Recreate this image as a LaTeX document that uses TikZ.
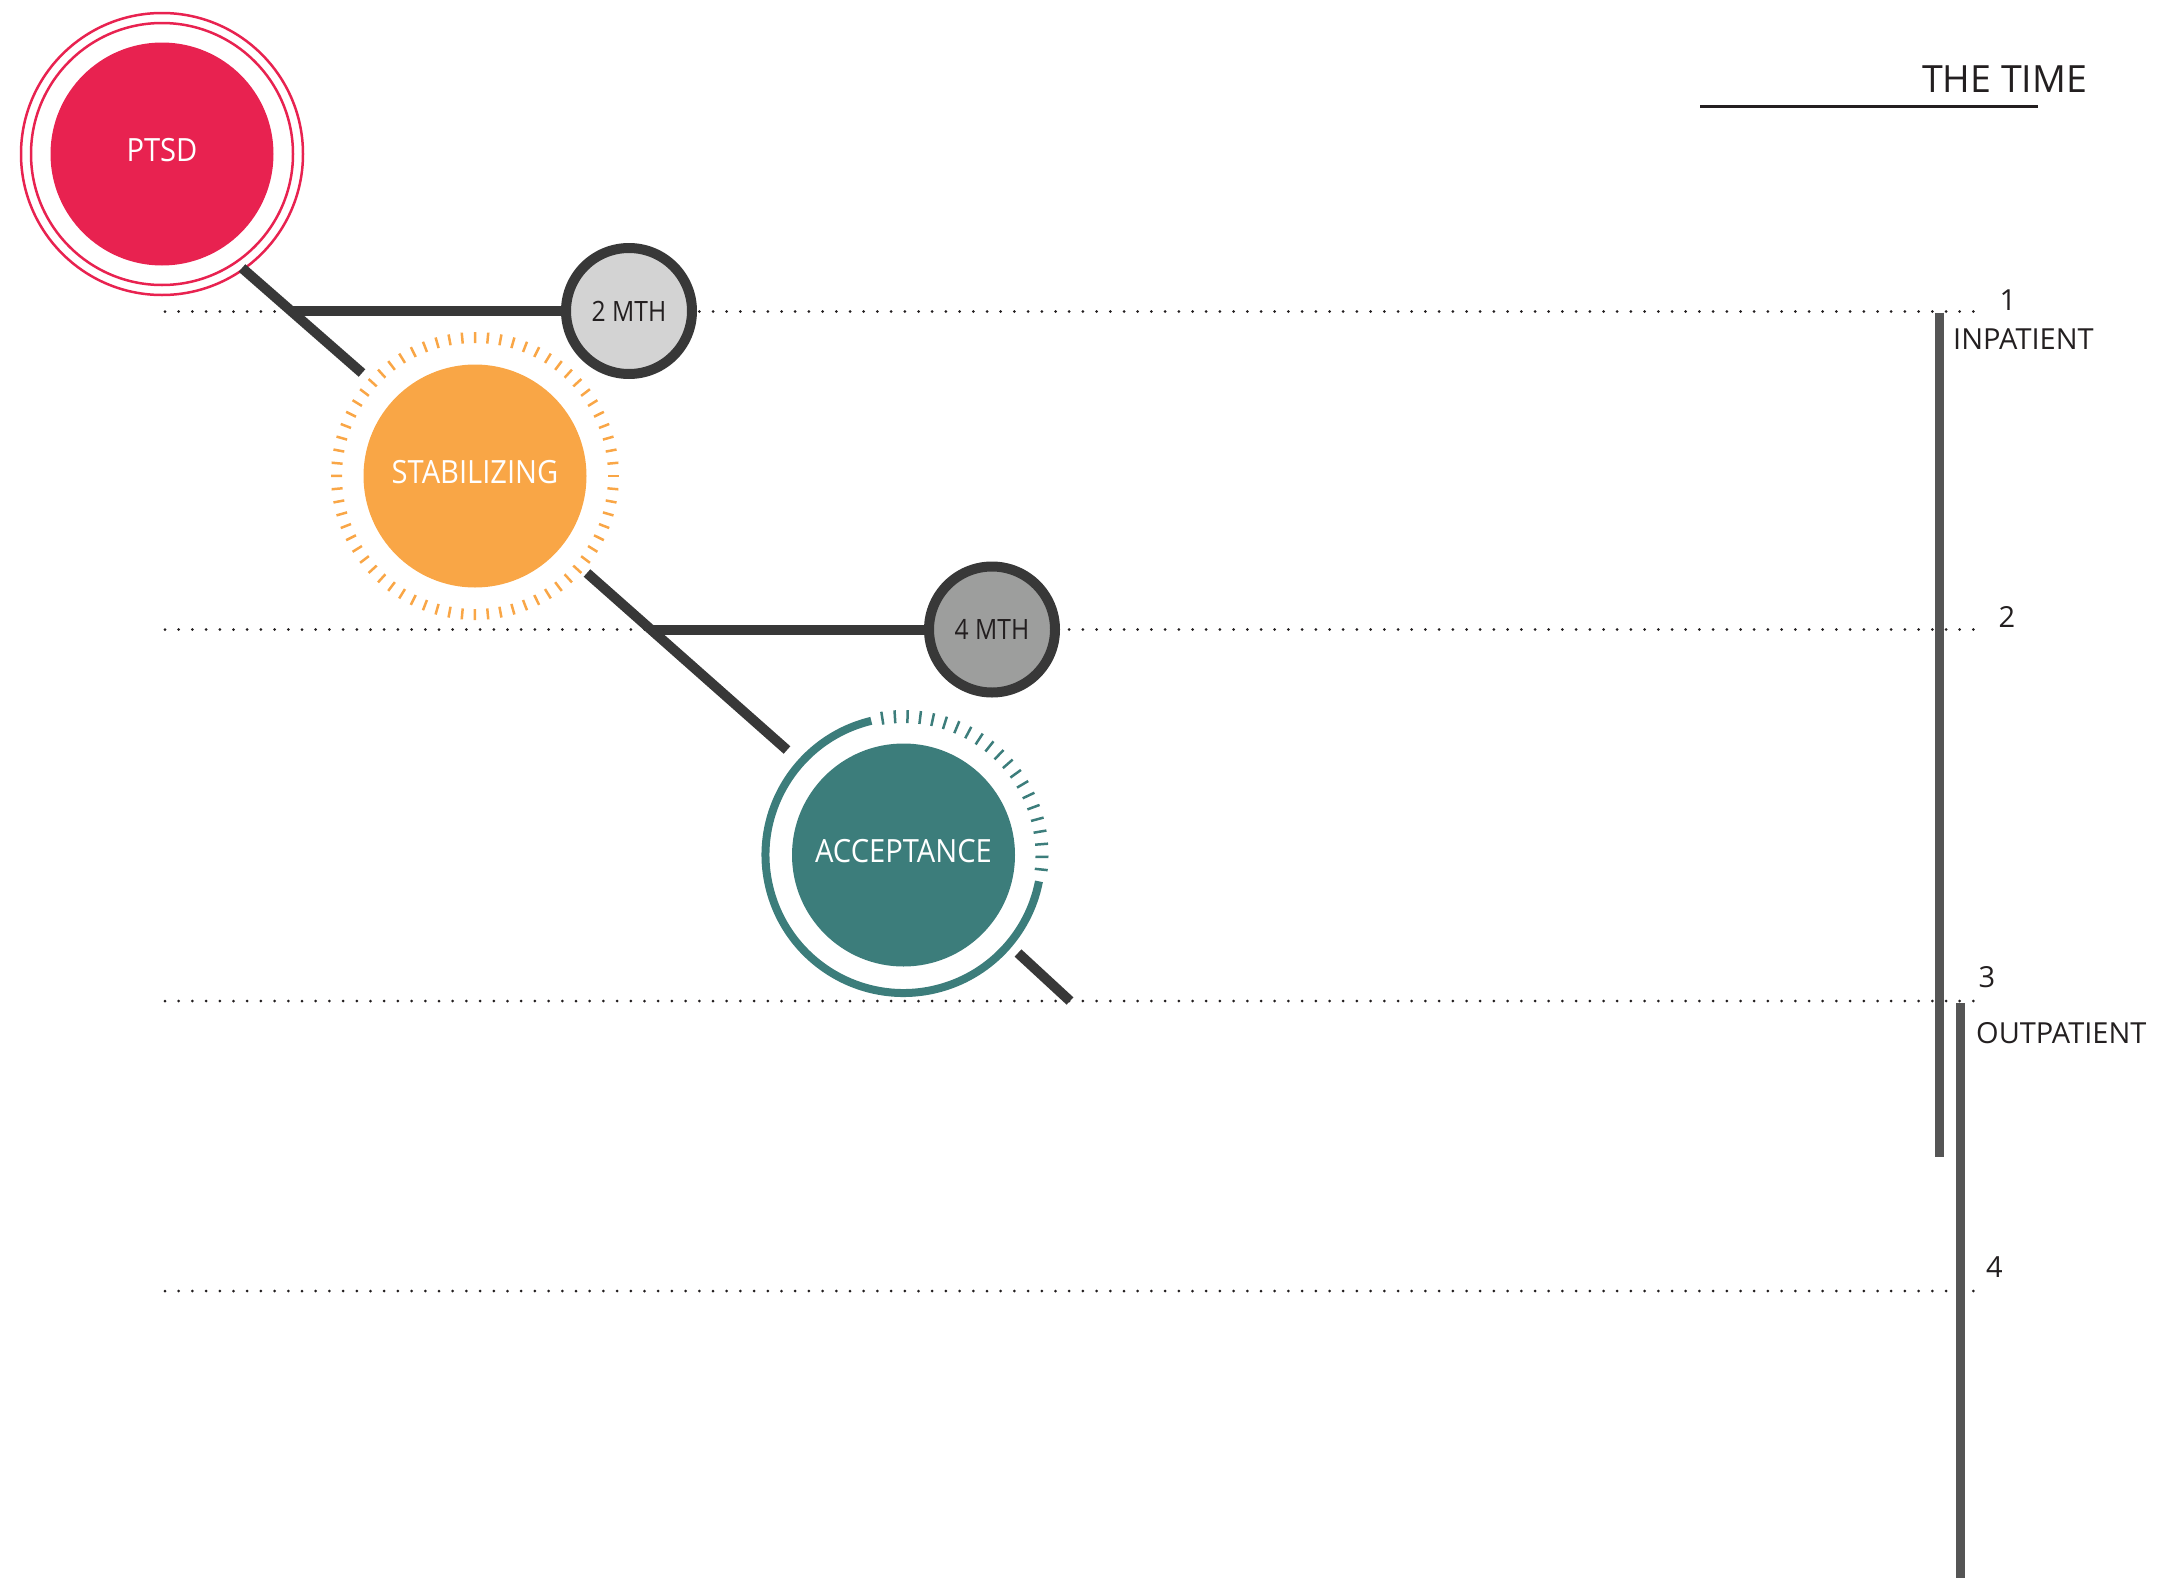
\documentclass[tikz,border=0pt]{standalone}
\usepackage{fontspec}
\setmainfont{Open Sans}
\newfontfamily\narrowsans[FakeStretch=0.91]{Open Sans}
\newfontfamily\monthsans[FakeStretch=0.88]{Open Sans}
\usetikzlibrary{calc}
\definecolor{ptsdred}{HTML}{E82250}
\definecolor{stabor}{HTML}{F9A646}
\definecolor{accteal}{HTML}{3C7D7B}
\definecolor{linkgray}{HTML}{383838}
\definecolor{bargray}{HTML}{555555}
\definecolor{lightmth}{HTML}{D3D3D3}
\definecolor{darkmth}{HTML}{9D9E9D}
\definecolor{ink}{HTML}{231F20}
\begin{document}
\begin{tikzpicture}[x=1pt,y=1pt,
 phase/.style={circle,inner sep=0,minimum size=223pt,text=white,text height=23pt,text depth=8pt,font=\narrowsans\fontsize{32}{32}\selectfont},
 month/.style={circle,inner sep=0,minimum size=126pt,draw=linkgray,line width=10pt,text=ink,font=\monthsans\fontsize{28}{28}\selectfont},
 link/.style={linkgray,line width=10pt},
 tickmark/.style={line width=2.5pt},
 timeline/.style={ink,line width=3pt,line cap=round,dash pattern=on 0pt off 13.7pt},
 stay/.style={bargray,line width=9pt},
 lbl/.style={text=ink,inner sep=0,font=\fontsize{29}{29}\selectfont}]
 \useasboundingbox (0,0) rectangle (2169,-1590);
 % dotted month lines
 \draw[timeline](165,-311.5)--(1975,-311.5);
 \draw[timeline](165,-629.5)--(1975,-629.5);
 \draw[timeline](165,-1001)--(1975,-1001);
 \draw[timeline](165,-1291)--(1975,-1291);
 % phases
 \node[phase,fill=ptsdred] (ptsd) at (162,-154) {PTSD};
 \draw[ptsdred,line width=2.5pt](ptsd.center) circle (131);
 \draw[ptsdred,line width=2.5pt](ptsd.center) circle (141);
 \node[phase,fill=stabor] (stab) at (475,-476) {STABILIZING};
 \foreach \a in {0,...,67}
  \draw[tickmark,stabor]($(stab.center)+(\a*5.294:133pt)$)--($(stab.center)+(\a*5.294:144pt)$);
 \node[phase,fill=accteal] (acc) at (903.5,-855) {ACCEPTANCE};
 \draw[accteal,line width=8pt]($(acc.center)+(103.5:138pt)$) arc[start angle=103.5,end angle=349,radius=138pt];
 \foreach \k in {0,...,20}
  \draw[tickmark,accteal]($(acc.center)+(-6+\k*5.24:132pt)$)--($(acc.center)+(-6+\k*5.24:145pt)$);
 % connectors
 \coordinate (ptsdout) at (242,-268);
 \coordinate (stabin) at (362,-373);
 \coordinate (stabout) at (587,-573);
 \coordinate (accin) at (787,-750);
 \coordinate (accout) at (1018,-953);
 \coordinate (accend) at (1070,-1001);
 \coordinate (fork1) at (293,-311);
 \coordinate (fork2) at (650,-629.5);
 \draw[link](ptsdout)--(stabin);
 \draw[link](stabout)--(accin);
 \draw[link](accout)--(accend);
 \node[month,fill=lightmth] (mth2) at (629,-311) {2 MTH};
 \node[month,fill=darkmth] (mth4) at (992,-629.5) {4 MTH};
 \draw[link](fork1)--(mth2);
 \draw[link](fork2)--(mth4);
 % time axis
 \node[lbl,anchor=west,font=\fontsize{37.5}{37.5}\selectfont] (title) at (1922,-79) {THE TIME};
 \draw[ink,line width=3pt](1700,-106.5)--(2038,-106.5);
 \draw[stay](1939.5,-312.5)--(1939.5,-1156.5);
 \draw[stay](1960.5,-1003)--(1960.5,-1578);
 \node[lbl] (m1) at (2008,-300) {1};
 \node[lbl] (m2) at (2007,-617) {2};
 \node[lbl] (m3) at (1987,-977) {3};
 \node[lbl] (m4) at (1994.5,-1267) {4};
 \node[lbl,anchor=west] (inp) at (1953,-339.5) {INPATIENT};
 \node[lbl,anchor=west] (outp) at (1976,-1033) {OUTPATIENT};
\end{tikzpicture}
\end{document}
